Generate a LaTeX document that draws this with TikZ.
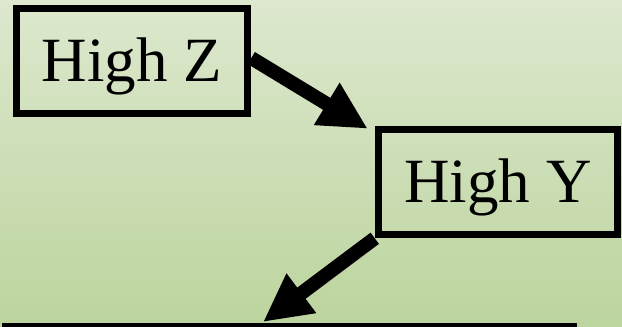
\documentclass[tikz,border=0pt]{standalone}
\usepackage{fontspec}
\setmainfont{Liberation Serif}
\usetikzlibrary{positioning,arrows.meta,calc}
\definecolor{ctop}{HTML}{DDE8CE}
\definecolor{cbot}{HTML}{BCD49E}

\begin{document}
\begin{tikzpicture}[x=1pt, y=-1pt,
  font=\fontsize{63}{72}\selectfont,
  box/.style={draw=black, line width=7.5pt, minimum height=105pt, inner sep=0pt,
    text height=41pt, text depth=0pt},
  arr/.style={-{Triangle[length=48pt, width=46pt]}, line width=14pt, black},
  base/.style={line width=5pt, black}]

% ---- background (622 x 327)
\shade[top color=ctop, bottom color=cbot, use as bounding box] (0,0) rectangle (622,327);

% ---- boxes
\node[box, minimum width=231pt] (hz) at (132,61)  {High Z};
\node[box, minimum width=239pt] (hy) at (498,182) {High Y};

% ---- bottom line
\coordinate (bw) at (2,325);
\coordinate (be) at (577,325);
\coordinate (tip) at (263,322);
\draw[base] (bw) -- (be);

% ---- arrows
\draw[arr] ($(hz.east)+(0,-3)$) -- ($(hy.north west)+(-7,3)$);
\draw[arr] (hy.south west) -- (tip);
\end{tikzpicture}
\end{document}
